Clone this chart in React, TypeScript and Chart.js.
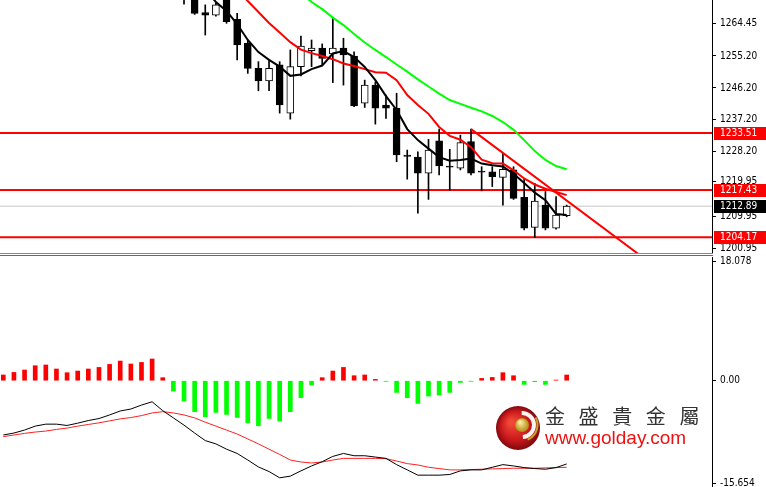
import React, { useEffect, useRef } from 'react';
import { Chart, registerables } from 'chart.js';

Chart.register(...registerables);

// ---------- DATA ----------
const barIndex: number[] = Array.from({ length: 54 }, (_, i) => i);
const hidden17: null[] = Array(17).fill(null);

const opens: (number | null)[] = [...hidden17,
  1275.0, 1273.5, 1267.4, 1266.7, 1272.0, 1265.5, 1258.8, 1251.7, 1248.2, 1252.7,
  1239.1, 1252.2, 1256.7, 1257.4, 1255.8, 1257.4, 1255.2, 1241.9, 1247.0, 1241.4,
  1240.5, 1227.3, 1226.7, 1222.2, 1231.3, 1224.1, 1223.6, 1231.1, 1222.7, 1222.6,
  1221.0, 1223.1, 1215.4, 1206.9, 1213.2, 1206.7, 1210.2];
const highs: (number | null)[] = [...hidden17,
  1276.0, 1274.5, 1269.6, 1270.0, 1273.0, 1267.2, 1259.7, 1253.6, 1254.1, 1253.6,
  1256.9, 1260.8, 1259.7, 1258.6, 1265.8, 1260.2, 1256.4, 1248.4, 1247.9, 1244.2,
  1244.7, 1228.7, 1228.2, 1231.7, 1234.6, 1228.9, 1232.9, 1234.6, 1224.0, 1224.0,
  1227.8, 1224.0, 1220.5, 1219.3, 1217.0, 1215.6, 1213.2];
const lows: (number | null)[] = [...hidden17,
  1269.8, 1266.9, 1261.1, 1266.4, 1264.4, 1254.1, 1250.3, 1245.4, 1245.4, 1239.1,
  1237.4, 1249.6, 1252.2, 1252.7, 1247.7, 1247.0, 1240.9, 1240.7, 1236.0, 1237.6,
  1225.4, 1220.5, 1210.9, 1214.8, 1221.7, 1217.3, 1223.1, 1221.7, 1217.2, 1218.4,
  1213.2, 1214.8, 1206.2, 1204.1, 1206.2, 1206.4, 1209.9];
const closes: (number | null)[] = [...hidden17,
  1273.0, 1267.2, 1266.7, 1269.6, 1264.9, 1258.3, 1251.7, 1248.2, 1251.7, 1241.4,
  1252.2, 1258.0, 1257.4, 1254.5, 1257.4, 1255.5, 1241.1, 1247.0, 1240.5, 1240.5,
  1227.3, 1226.9, 1222.2, 1228.7, 1224.2, 1223.9, 1230.8, 1222.2, 1222.5, 1221.2,
  1223.3, 1215.1, 1206.7, 1214.3, 1206.7, 1210.4, 1212.89];

const maFast: (number | null)[] = [...Array(19).fill(null),
  1274.0, 1270.4, 1267.9, 1264.2, 1259.7, 1256.3, 1254.1, 1252.2, 1249.6, 1250.0,
  1251.5, 1252.5, 1255.9, 1256.6, 1254.9, 1252.1, 1248.4, 1243.9, 1240.0, 1234.6,
  1231.5, 1229.1, 1226.7, 1225.7, 1225.9, 1226.3, 1224.9, 1224.4, 1224.1, 1222.0,
  1219.4, 1216.7, 1214.6, 1210.7, 1210.4];
const maMid: (number | null)[] = [...Array(22).fill(null),
  1274.0, 1270.7, 1267.6, 1264.5, 1261.8, 1259.1, 1257.0, 1256.0, 1255.2, 1254.3,
  1253.1, 1252.4, 1251.5, 1250.6, 1250.5, 1248.4, 1244.2, 1241.4, 1238.9, 1235.2,
  1232.7, 1231.6, 1229.5, 1226.0, 1225.0, 1224.9, 1223.0, 1220.7, 1219.0, 1217.8,
  1216.9, 1216.0];
const maSlow: (number | null)[] = [...Array(28).fill(null),
  1273.0, 1270.4, 1268.4, 1266.0, 1263.9, 1261.4, 1259.0, 1256.9, 1254.9, 1252.8,
  1250.8, 1248.6, 1246.6, 1244.6, 1242.8, 1241.7, 1240.6, 1239.6, 1238.3, 1236.6,
  1234.4, 1231.5, 1228.4, 1225.9, 1224.2, 1223.3];

const trendBars: number[] = [44, 61];
const trendPrices: number[] = [1234.6, 1196.6];

const levelLines: number[] = [1233.51, 1217.43, 1204.17];
const bidLevel = 1212.89;
const priceTicks: number[] = [1264.45, 1255.20, 1246.20, 1237.20, 1228.20, 1219.95, 1209.95, 1200.95];

const macdHist: number[] = [
  0.87, 1.26, 1.63, 2.28, 2.39, 1.78, 1.22, 1.47, 1.78, 2.02,
  2.48, 2.99, 2.54, 2.78, 3.30, 0.46, -1.57, -3.09, -4.71, -5.47,
  -4.82, -5.12, -5.58, -6.38, -6.84, -5.73, -6.12, -4.71, -2.58, -0.65,
  0.46, 1.47, 2.02, 0.76, 0.87, 0.20, -0.10, -1.78, -2.58, -3.45,
  -2.33, -2.17, -1.78, -0.26, -0.10, 0.35, 0.50, 1.22, 0.76, -0.56,
  -0.15, -0.56, 0.10, 0.87];
const macdMain: number[] = [
  -8.25, -7.95, -7.5, -6.9, -6.6, -6.6, -6.8, -6.45, -6.05, -5.75,
  -5.2, -4.6, -4.3, -3.7, -3.2, -4.55, -5.65, -6.75, -7.95, -9.1,
  -9.6, -10.4, -11.05, -12.05, -13.1, -13.8, -14.75, -14.5, -13.7, -12.95,
  -12.3, -11.5, -11.05, -11.4, -11.4, -11.6, -11.8, -12.75, -13.55, -14.35,
  -14.35, -14.35, -14.25, -13.7, -13.55, -13.55, -13.15, -12.75, -12.95, -13.2,
  -13.35, -13.45, -13.2, -12.65];
const macdSignal: number[] = [
  -8.5, -8.25, -8.0, -7.8, -7.65, -7.4, -7.2, -6.9, -6.65, -6.4,
  -6.1, -5.8, -5.6, -5.3, -4.9, -4.7, -4.9, -5.2, -5.65, -6.3,
  -6.9, -7.5, -8.1, -8.85, -9.6, -10.4, -11.2, -12.05, -12.35, -12.5,
  -12.35, -12.05, -11.8, -11.8, -11.8, -11.8, -11.85, -12.2, -12.6, -12.8,
  -13.15, -13.35, -13.55, -13.55, -13.5, -13.45, -13.4, -13.35, -13.3, -13.3,
  -13.3, -13.25, -13.2, -13.15];
const macdTicks: number[] = [18.078, 0, -15.654];
const macdTickLabels: string[] = ['18.078', '0.00', '-15.654'];

// ---------- VIEW ----------
const X_MIN = -0.31;
const X_MAX = 66.67;
const PRICE_MIN = 1199.7;
const PRICE_MAX = 1270.97;
const MACD_MIN = -16.15;
const MACD_MAX = 18.8;
const AXIS_W = 54;
const AXIS_FONT = { family: '"DejaVu Sans Condensed", "Liberation Sans", sans-serif', size: 10 };

const series = (arr: (number | null)[]) =>
  barIndex.filter((i) => arr[i] != null).map((i) => ({ x: i, y: arr[i] as number }));

const rightAxis = (min: number, max: number, tickVals: number[], fmt: (v: number) => string) => ({
  type: 'linear' as const,
  position: 'right' as const,
  min,
  max,
  afterBuildTicks: (s: any) => {
    s.ticks = tickVals.map((v) => ({ value: v }));
  },
  afterFit: (s: any) => {
    s.width = AXIS_W;
    s.paddingTop = 0;
    s.paddingBottom = 0;
  },
  ticks: {
    autoSkip: false,
    color: '#000',
    padding: 4,
    font: AXIS_FONT,
    callback: (v: any) => fmt(Number(v)),
  },
  grid: { drawOnChartArea: false, drawTicks: true, tickLength: 4, color: '#000' },
  border: { display: true, color: '#000', width: 1 },
});

const xAxis = { type: 'linear' as const, min: X_MIN, max: X_MAX, display: false, offset: false };

export default function App() {
  const topRef = useRef<HTMLCanvasElement>(null);
  const botRef = useRef<HTMLCanvasElement>(null);

  useEffect(() => {
    const candleIdx = barIndex.filter((i) => opens[i] != null);
    const wickData = candleIdx.map((i) => ({ x: i, y: [lows[i] as number, highs[i] as number] }));
    const bodyData = candleIdx.map((i) => ({ x: i, y: [opens[i] as number, closes[i] as number] }));
    const bodyFill = candleIdx.map((i) => ((closes[i] as number) >= (opens[i] as number) ? '#ffffff' : '#000000'));

    const topDecor = {
      id: 'topDecor',
      afterDraw(chart: any) {
        const { ctx } = chart;
        const ys = chart.scales.y;
        ctx.save();
        ctx.fillStyle = '#8a8a8a';
        ctx.fillRect(0, 253, 713, 1);
        ctx.fillStyle = '#6a6a6a';
        ctx.fillRect(0, 255, 713, 1);
        const tag = (v: number, bg: string) => {
          const py = Math.round(ys.getPixelForValue(v));
          ctx.fillStyle = bg;
          ctx.fillRect(714, py - 6, 52, 13);
          ctx.fillStyle = '#ffffff';
          ctx.font = `10px ${AXIS_FONT.family}`;
          ctx.textBaseline = 'middle';
          ctx.textAlign = 'left';
          ctx.fillText(v.toFixed(2), 720, py + 0.5);
        };
        levelLines.forEach((v) => tag(v, '#ff0000'));
        tag(bidLevel, '#000000');
        ctx.restore();
      },
    };

    const top = new Chart(topRef.current as HTMLCanvasElement, {
      type: 'bar',
      data: {
        datasets: [
          {
            type: 'line',
            data: [{ x: X_MIN, y: bidLevel }, { x: X_MAX, y: bidLevel }],
            borderColor: '#c8c8c8',
            borderWidth: 1,
            pointRadius: 0,
            order: 10,
          } as any,
          ...levelLines.map((lv) => ({
            type: 'line',
            data: [{ x: X_MIN, y: lv }, { x: X_MAX, y: lv }],
            borderColor: '#ff0000',
            borderWidth: 2,
            pointRadius: 0,
            order: 9,
          } as any)),
          {
            type: 'bar',
            data: wickData,
            backgroundColor: '#000',
            barThickness: 1,
            grouped: false,
            order: 8,
          } as any,
          {
            type: 'bar',
            data: bodyData,
            backgroundColor: bodyFill,
            borderColor: '#000',
            borderWidth: 1,
            borderSkipped: false,
            barThickness: 7,
            minBarLength: 1,
            grouped: false,
            order: 7,
          } as any,
          {
            type: 'line',
            data: series(maSlow),
            borderColor: '#00ff00',
            borderWidth: 2,
            pointRadius: 0,
            order: 5,
          } as any,
          {
            type: 'line',
            data: series(maMid),
            borderColor: '#ff0000',
            borderWidth: 2,
            pointRadius: 0,
            order: 4,
          } as any,
          {
            type: 'line',
            data: series(maFast),
            borderColor: '#000000',
            borderWidth: 2,
            pointRadius: 0,
            order: 3,
          } as any,
          {
            type: 'line',
            data: trendBars.map((b, k) => ({ x: b, y: trendPrices[k] })),
            borderColor: '#ff0000',
            borderWidth: 2,
            pointRadius: 0,
            order: 2,
          } as any,
        ],
      },
      options: {
        responsive: false,
        animation: false,
        events: [],
        layout: { padding: { top: 0, bottom: 3, left: 0, right: 0 } },
        plugins: { legend: { display: false }, tooltip: { enabled: false } },
        scales: {
          x: xAxis,
          y: rightAxis(PRICE_MIN, PRICE_MAX, priceTicks, (v) => v.toFixed(2)),
        },
      } as any,
      plugins: [topDecor],
    });

    const logo = {
      id: 'logo',
      afterDraw(chart: any) {
        const { ctx } = chart;
        const cx = 518;
        const cy = 172;
        const r = 22;
        ctx.save();
        const g = ctx.createRadialGradient(cx - 7, cy - 6, 2, cx, cy, r);
        g.addColorStop(0, '#f04a36');
        g.addColorStop(0.65, '#c8161b');
        g.addColorStop(1, '#7e0a0c');
        ctx.fillStyle = g;
        ctx.beginPath();
        ctx.arc(cx, cy, r, 0, Math.PI * 2);
        ctx.fill();
        ctx.strokeStyle = 'rgba(255,255,255,0.95)';
        ctx.lineWidth = 4;
        ctx.beginPath();
        ctx.arc(cx + 4, cy - 3, 12, -1.6, 1.5);
        ctx.stroke();
        ctx.strokeStyle = '#c9a227';
        ctx.lineWidth = 2;
        ctx.beginPath();
        ctx.arc(cx + 4, cy - 3, 15.5, -0.5, 1.2);
        ctx.stroke();
        const gb = ctx.createRadialGradient(cx + 2, cy - 6, 1, cx + 4, cy - 3, 7);
        gb.addColorStop(0, '#fbe9a0');
        gb.addColorStop(1, '#b48a12');
        ctx.fillStyle = gb;
        ctx.beginPath();
        ctx.arc(cx + 4, cy - 3, 7, 0, Math.PI * 2);
        ctx.fill();
        ctx.restore();
      },
    };

    const bot = new Chart(botRef.current as HTMLCanvasElement, {
      type: 'bar',
      data: {
        datasets: [
          {
            type: 'bar',
            data: barIndex.map((i) => ({ x: i, y: macdHist[i] })),
            backgroundColor: macdHist.map((v) => (v >= 0 ? '#ff0000' : '#00ff00')),
            barThickness: 4,
            grouped: false,
            order: 5,
          } as any,
          {
            type: 'line',
            data: barIndex.map((i) => ({ x: i, y: macdSignal[i] })),
            borderColor: '#ff2020',
            borderWidth: 1,
            pointRadius: 0,
            order: 3,
          } as any,
          {
            type: 'line',
            data: barIndex.map((i) => ({ x: i, y: macdMain[i] })),
            borderColor: '#000000',
            borderWidth: 1,
            pointRadius: 0,
            order: 2,
          } as any,
        ],
      },
      options: {
        responsive: false,
        animation: false,
        events: [],
        layout: { padding: { top: 1, bottom: 0, left: 0, right: 0 } },
        plugins: { legend: { display: false }, tooltip: { enabled: false } },
        scales: {
          x: xAxis,
          y: rightAxis(MACD_MIN, MACD_MAX, macdTicks, (v) => {
            const k = macdTicks.indexOf(v);
            return k >= 0 ? macdTickLabels[k] : String(v);
          }),
        },
      } as any,
      plugins: [logo],
    });

    return () => {
      top.destroy();
      bot.destroy();
    };
  }, []);

  return (
    <div style={{ position: 'absolute', left: 0, top: 0, width: 766, height: 487, background: '#fff', overflow: 'hidden' }}>
      <canvas ref={topRef} width={766} height={256} style={{ position: 'absolute', left: 0, top: 0, display: 'block' }} />
      <canvas ref={botRef} width={766} height={231} style={{ position: 'absolute', left: 0, top: 256, display: 'block' }} />
      <div
        style={{
          position: 'absolute',
          left: 545,
          top: 405,
          fontFamily: '"Noto Sans CJK TC", "Noto Sans CJK SC", sans-serif',
          fontSize: 20,
          lineHeight: '22px',
          letterSpacing: '13.6px',
          color: '#333',
          whiteSpace: 'nowrap',
        }}
      >
        金盛貴金屬
      </div>
      <div
        style={{
          position: 'absolute',
          left: 545,
          top: 428,
          fontFamily: '"Liberation Sans", Arial, sans-serif',
          fontSize: 19,
          lineHeight: '19px',
          color: '#f01010',
          whiteSpace: 'nowrap',
        }}
      >
        www.golday.com
      </div>
    </div>
  );
}
